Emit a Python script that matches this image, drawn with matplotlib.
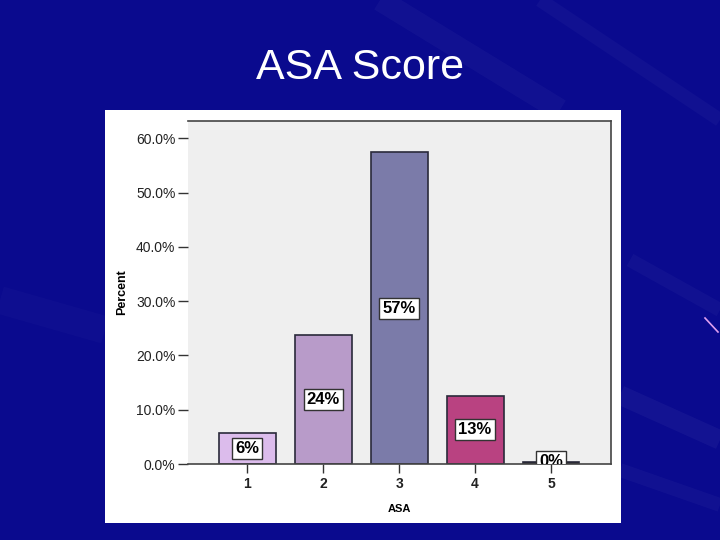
import matplotlib
matplotlib.use("Agg")
import matplotlib.pyplot as plt
from matplotlib.patches import Rectangle

categories = ["1", "2", "3", "4", "5"]
percents = [5.7, 23.8, 57.4, 12.6, 0.4]
bar_labels = ["6%", "24%", "57%", "13%", "0%"]
bar_colors = ["#DCBCEC", "#B89BC9", "#7B7BA9", "#B94281", "#222222"]
yticks = [0, 10, 20, 30, 40, 50, 60]

plt.rcParams['font.family'] = ['Liberation Sans', 'DejaVu Sans']

W, H = 720, 540
fig = plt.figure(figsize=(7.2, 5.4), dpi=100, facecolor="#0A0A8E")

# subtle background streaks
bg = fig.add_axes([0, 0, 1, 1], zorder=-10)
bg.set_xlim(0, W); bg.set_ylim(H, 0); bg.axis("off")
for (x0, y0, x1, y1, lw, a) in [(380, 0, 560, 110, 16, 0.03), (540, 0, 720, 120, 10, 0.03),
                                (620, 395, 720, 440, 14, 0.04), (630, 260, 720, 310, 10, 0.03),
                                (620, 470, 720, 505, 10, 0.03), (0, 300, 105, 330, 20, 0.02)]:
    bg.plot([x0, x1], [y0, y1], color="white", lw=lw, alpha=a, solid_capstyle="butt")
bg.plot([705, 718], [318, 332], color="#E0A0F0", lw=1.2)

# white panel
fig.patches.append(Rectangle((105 / W, (H - 523) / H), 516 / W, 413 / H,
                             transform=fig.transFigure, facecolor="white",
                             edgecolor="none", zorder=-5))

fig.text(360 / W, 1 - 68 / H, "ASA Score", color="white", fontsize=31,
         ha="center", va="center")

ax = fig.add_axes([188 / W, (H - 464) / H, 423 / W, 343 / H])
ax.set_facecolor("#EFEFEF")
x = list(range(1, len(categories) + 1))
ax.bar(x, percents, width=0.75, color=bar_colors, edgecolor="#2A2A3A", linewidth=1.2, zorder=2)

for xi, p, lab in zip(x, percents, bar_labels):
    yc = p / 2 if p > 2 else 0.45
    ax.text(xi, yc, lab, ha="center", va="center", fontsize=12, fontweight="bold",
            color="black", zorder=4, clip_on=True,
            bbox=dict(boxstyle="square,pad=0.18", facecolor="white", edgecolor="#333333", lw=1))

ax.set_xlim(0.22, 5.79)
ax.set_ylim(0, 63.2)
ax.set_xticks(x)
ax.set_xticklabels(categories, fontsize=10, fontweight="bold", color="#222222")
ax.set_yticks(yticks)
ax.set_yticklabels([f"{v:.1f}%" for v in yticks], fontsize=10, color="#222222")
ax.tick_params(axis="y", direction="out", length=7.5, width=1, pad=1.5, color="#333333")
ax.tick_params(axis="x", direction="out", length=6.5, width=1, pad=3, color="#333333")
ax.set_xlabel("ASA", fontsize=8, fontweight="bold", labelpad=9)
ax.set_ylabel("Percent", fontsize=9, fontweight="bold", labelpad=6)

for s in ["top", "right", "bottom"]:
    ax.spines[s].set_color("#444444")
    ax.spines[s].set_linewidth(1.2)
ax.spines["left"].set_visible(False)

fig.savefig("out.png", dpi=100, facecolor=fig.get_facecolor())
